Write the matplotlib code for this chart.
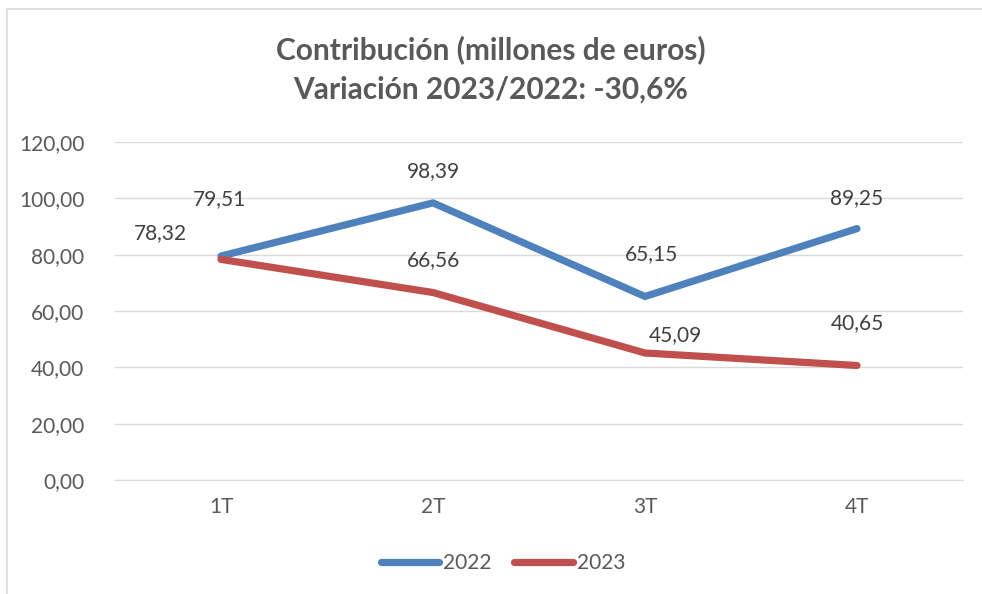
import matplotlib
matplotlib.use("Agg")
import matplotlib.pyplot as plt
from matplotlib.patches import Rectangle

categories = ["1T", "2T", "3T", "4T"]
series_2022 = [79.51, 98.39, 65.15, 89.25]
series_2023 = [78.32, 66.56, 45.09, 40.65]
labels_2022 = ["79,51", "98,39", "65,15", "89,25"]
labels_2023 = ["78,32", "66,56", "45,09", "40,65"]
yticks = [0, 20, 40, 60, 80, 100, 120]
ytick_labels = ["0,00", "20,00", "40,00", "60,00", "80,00", "100,00", "120,00"]

# label offsets in pixels (dx, dy) relative to each point
offsets_2022 = [(-2, 57), (0, 32), (7, 42), (0, 31)]
offsets_2023 = [(-61, 26), (0, 32), (30, 18), (0, 42)]

plt.rcParams['font.family'] = ['Lato', 'DejaVu Sans']
text_color = "#595959"

fig = plt.figure(figsize=(9.82, 5.94), dpi=100)
W, H = 982, 594
ax = fig.add_axes([115 / W, 1 - 480 / H, (963 - 115) / W, (480 - 142) / H])

x = list(range(len(categories)))
blue = "#4F81BD"
red = "#C0504D"
ax.plot(x, series_2022, color=blue, lw=5.2, solid_capstyle="round", solid_joinstyle="round", label="2022", zorder=3)
ax.plot(x, series_2023, color=red, lw=5.2, solid_capstyle="round", solid_joinstyle="round", label="2023", zorder=3)

ax.set_xlim(-0.5, 3.5)
ax.set_ylim(0, 120)
ax.set_yticks(yticks)
ax.set_yticklabels(ytick_labels)
ax.set_xticks(x)
ax.set_xticklabels(categories)
ax.tick_params(axis="both", length=0, labelsize=15, colors=text_color)
ax.tick_params(axis="y", pad=22)
ax.tick_params(axis="x", pad=12)
ax.grid(axis="y", color="#D9D9D9", lw=1)
ax.set_axisbelow(True)
for s in ["top", "right", "left"]:
    ax.spines[s].set_visible(False)
ax.spines["bottom"].set_color("#D9D9D9")

# data labels
for i, (v, lab) in enumerate(zip(series_2022, labels_2022)):
    ax.annotate(lab, (i, v), xytext=offsets_2022[i], textcoords="offset pixels",
                ha="center", va="center", fontsize=15, color="#404040")
for i, (v, lab) in enumerate(zip(series_2023, labels_2023)):
    ax.annotate(lab, (i, v), xytext=offsets_2023[i], textcoords="offset pixels",
                ha="center", va="center", fontsize=15, color="#404040")

fig.text(0.5, 1 - 50 / H, "Contribución (millones de euros)",
         ha="center", va="center", fontsize=21.5, fontweight="bold", color=text_color)
fig.text(0.5, 1 - 90 / H, "Variación 2023/2022: -30,6%",
         ha="center", va="center", fontsize=21.5, fontweight="bold", color=text_color)

leg = fig.legend(loc="center", bbox_to_anchor=(0.5 + 12 / W, 1 - 563 / H), ncol=2, frameon=False,
                 fontsize=15, handlelength=2.8, handletextpad=0.2, columnspacing=1.1,
                 labelcolor=text_color)

fig.patches.append(Rectangle((7 / W, -0.1), 1.2, 1 - 9 / H + 0.1, transform=fig.transFigure,
                             fill=False, edgecolor="#D9D9D9", lw=1.2, zorder=0))

fig.savefig("out.png", dpi=100, facecolor="white")
